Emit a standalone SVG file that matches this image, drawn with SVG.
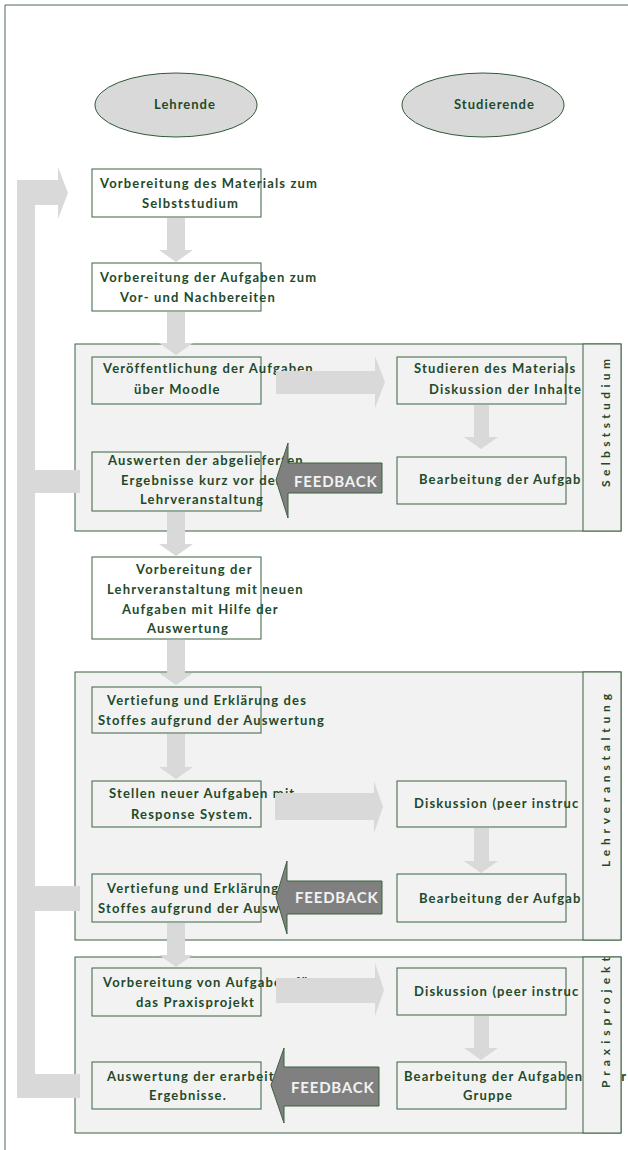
<svg xmlns="http://www.w3.org/2000/svg" width="628" height="1150" viewBox="0 0 628 1150">
<style>
.t{font-family:Lato,"Liberation Sans",sans-serif;font-weight:bold;font-size:13px;letter-spacing:1.15px;fill:#1f4a2a}
.e{font-size:13px;letter-spacing:1px}
.box{fill:none;stroke:#3b6343;stroke-width:1}
.sec{fill:#f2f2f2;stroke:#3b6343;stroke-width:1}
.ell{fill:#d9d9d9;stroke:#2f5a38;stroke-width:1}
.arr{fill:#d9d9d9}
.fb{fill:#808080;stroke:#3b6343;stroke-width:1}
.fbt{font-family:Lato,"Liberation Sans",sans-serif;font-weight:bold;font-size:15px;letter-spacing:0.8px;fill:#f2f2f2}
.tabt{font-size:12px;letter-spacing:4px}
</style>
<defs>
<clipPath id="clipTab3"><rect x="583" y="957" width="38" height="176"/></clipPath>
</defs>
<rect x="0" y="0" width="628" height="1150" fill="#ffffff"/>
<g id="page-border" stroke="#4a6b52" stroke-width="1">
<line x1="5" y1="5" x2="628" y2="5"/>
<line x1="5" y1="5" x2="5" y2="1150"/>
</g>

<g id="lehrende">
<ellipse class="ell" cx="176" cy="105" rx="81" ry="32"/>
<text class="t e" x="154" y="109">Lehrende</text>
</g>
<g id="studierende">
<ellipse class="ell" cx="483" cy="105" rx="81" ry="32"/>
<text class="t e" x="454" y="109">Studierende</text>
</g>

<g id="sections">
<rect id="sec-selbststudium" class="sec" x="75" y="344" width="546" height="187"/>
<rect id="sec-lehrveranstaltung" class="sec" x="75" y="672" width="546" height="268"/>
<rect id="sec-praxisprojekt" class="sec" x="75" y="957" width="546" height="176"/>
</g>

<g id="n1">
<rect class="box" x="92" y="169" width="169" height="48"/>
<text class="t" x="100" y="188">Vorbereitung des Materials zum</text>
<text class="t" x="142" y="208">Selbststudium</text>
</g>
<g id="n2">
<rect class="box" x="92" y="263" width="169" height="48"/>
<text class="t" x="100" y="282">Vorbereitung der Aufgaben zum</text>
<text class="t" x="120" y="302">Vor- und Nachbereiten</text>
</g>
<g id="n3">
<rect class="box" x="92" y="357" width="169" height="47"/>
<text class="t" x="103" y="373">Veröffentlichung der Aufgaben</text>
<text class="t" x="134" y="394">über Moodle</text>
</g>
<g id="n4">
<rect class="box" x="397" y="357" width="169" height="47"/>
<text class="t" x="414" y="373">Studieren des Materials</text>
<text class="t" x="429" y="394">Diskussion der Inhalte</text>
</g>
<g id="n5">
<rect class="box" x="397" y="457" width="169" height="47"/>
<text class="t" x="419" y="484">Bearbeitung der Aufgab</text>
</g>
<g id="n6">
<rect class="box" x="92" y="452" width="169" height="59"/>
<text class="t" x="108" y="465">Auswerten der abgelieferten</text>
<text class="t" x="121" y="485">Ergebnisse kurz vor der</text>
<text class="t" x="140" y="504">Lehrveranstaltung</text>
</g>
<g id="n7">
<rect class="box" x="92" y="557" width="169" height="82"/>
<text class="t" x="136" y="574">Vorbereitung der</text>
<text class="t" x="107" y="594">Lehrveranstaltung mit neuen</text>
<text class="t" x="122" y="614">Aufgaben mit Hilfe der</text>
<text class="t" x="147" y="633">Auswertung</text>
</g>
<g id="n8">
<rect class="box" x="92" y="687" width="169" height="46"/>
<text class="t" x="107" y="705">Vertiefung und Erklärung des</text>
<text class="t" x="98" y="725">Stoffes aufgrund der Auswertung</text>
</g>
<g id="n9">
<rect class="box" x="92" y="781" width="169" height="46"/>
<text class="t" x="109" y="798">Stellen neuer Aufgaben mit</text>
<text class="t" x="131" y="819">Response System.</text>
</g>
<g id="n10">
<rect class="box" x="397" y="781" width="169" height="46"/>
<text class="t" x="414" y="808">Diskussion (peer instruc</text>
</g>
<g id="n11">
<rect class="box" x="397" y="874" width="169" height="48"/>
<text class="t" x="419" y="903">Bearbeitung der Aufgab</text>
</g>
<g id="n12">
<rect class="box" x="92" y="874" width="169" height="48"/>
<text class="t" x="107" y="893">Vertiefung und Erklärung des</text>
<text class="t" x="98" y="913">Stoffes aufgrund der Ausw</text>
</g>
<g id="n13">
<rect class="box" x="92" y="968" width="169" height="48"/>
<text class="t" x="103" y="987">Vorbereitung von Aufgaben für</text>
<text class="t" x="136" y="1007">das Praxisprojekt</text>
</g>
<g id="n14">
<rect class="box" x="397" y="968" width="169" height="47"/>
<text class="t" x="414" y="996">Diskussion (peer instruc</text>
</g>
<g id="n15">
<rect class="box" x="397" y="1062" width="169" height="47"/>
<text class="t" x="404" y="1081">Bearbeitung der Aufgaben in der</text>
<text class="t" x="463" y="1100">Gruppe</text>
</g>
<g id="n16">
<rect class="box" x="92" y="1062" width="169" height="47"/>
<text class="t" x="107" y="1081">Auswertung der erarbeiteten</text>
<text class="t" x="149" y="1100">Ergebnisse.</text>
</g>

<g id="connectors">
<polygon class="arr" points="167,218 185,218 185,250 193,250 176,262 159,250 167,250"/>
<polygon class="arr" points="167,312 185,312 185,343 193,343 176,355 159,343 167,343"/>
<polygon class="arr" points="167,512 185,512 185,544 193,544 176,556 159,544 167,544"/>
<polygon class="arr" points="167,640 185,640 185,673 193,673 176,685 159,673 167,673"/>
<polygon class="arr" points="167,734 185,734 185,767 193,767 176,779 159,767 167,767"/>
<polygon class="arr" points="167,923 185,923 185,955 193,955 176,967 159,955 167,955"/>
<polygon class="arr" points="474,405 489,405 489,437 498,437 481,449 464,437 474,437"/>
<polygon class="arr" points="474,828 489,828 489,861 498,861 481,873 464,861 474,861"/>
<polygon class="arr" points="474,1016 489,1016 489,1048 498,1048 481,1060 464,1048 474,1048"/>
<polygon class="arr" points="276,371 375,371 375,356 385,382 375,408 375,394 276,394"/>
<polygon class="arr" points="275,793 374,793 374,781 383,807 374,833 374,820 275,820"/>
<polygon class="arr" points="276,978 375,978 375,963 384,990 375,1016 375,1003 276,1003"/>
<g id="feedback1">
<polygon class="fb" points="276,480 288,443 288,463 382,463 382,493 288,493 288,518"/>
<text class="fbt" x="294" y="487">FEEDBACK</text>
</g>
<g id="feedback2">
<polygon class="fb" points="276,897 287,861 287,881 382,881 382,914 287,914 287,934"/>
<text class="fbt" x="295" y="903">FEEDBACK</text>
</g>
<g id="feedback3">
<polygon class="fb" points="271,1085 284,1048 284,1067 379,1067 379,1106 284,1106 284,1123"/>
<text class="fbt" x="291" y="1093">FEEDBACK</text>
</g>
<path id="loop" class="arr" d="M17,180 H58 V167 L68,193 L58,219 V205 H35 V470 H80 V493 H35 V886 H80 V911 H35 V1074 H80 V1098 H17 Z"/>
</g>

<g id="tab-selbststudium">
<rect class="sec" x="583" y="344" width="38" height="187"/>
<text class="t tabt" transform="translate(610,487) rotate(-90)" x="0" y="0" textLength="132" lengthAdjust="spacing">Selbststudium</text>
</g>
<g id="tab-lehrveranstaltung">
<rect class="sec" x="583" y="672" width="38" height="268"/>
<text class="t tabt" transform="translate(610,867) rotate(-90)" x="0" y="0" textLength="177" lengthAdjust="spacing">Lehrveranstaltung</text>
</g>
<g id="tab-praxisprojekt">
<rect class="sec" x="583" y="957" width="38" height="176"/>
<g clip-path="url(#clipTab3)">
<text class="t tabt" transform="translate(610,1088) rotate(-90)" x="0" y="0" textLength="135" lengthAdjust="spacing">Praxisprojekt</text>
</g>
</g>
</svg>
